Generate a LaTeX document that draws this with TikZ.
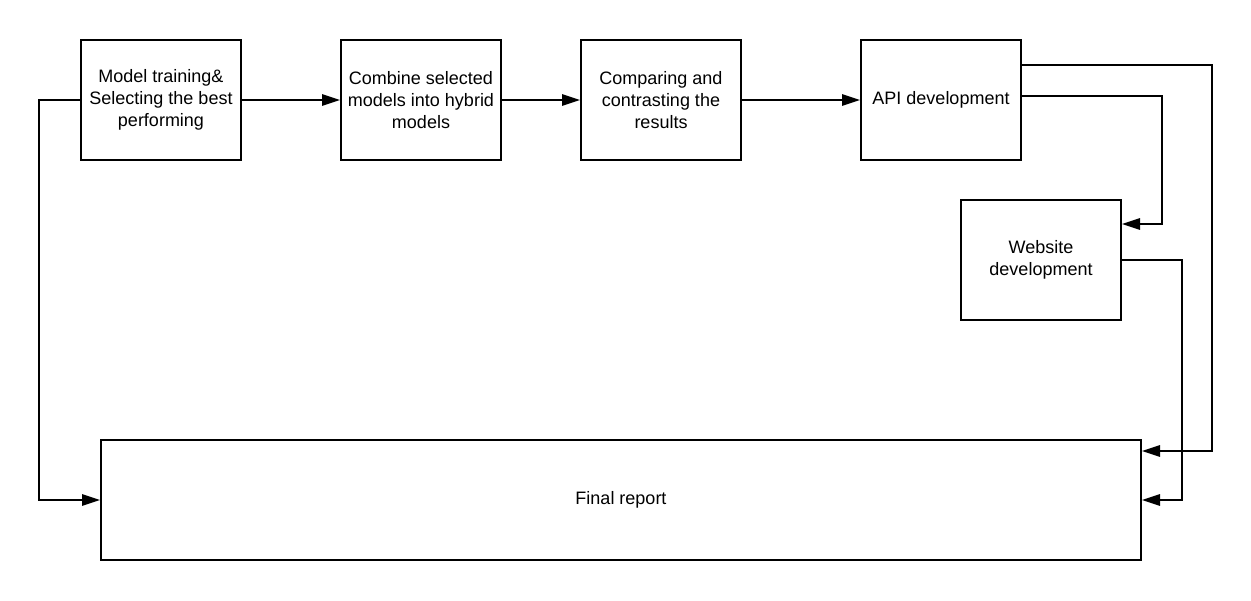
\documentclass[tikz,border=0pt]{standalone}
\usepackage{fontspec}
\setmainfont{Liberation Sans}
\usetikzlibrary{positioning, calc, arrows.meta}

\begin{document}
\begin{tikzpicture}[x=0.75pt, y=-0.75pt, line width=1.5pt,
    box/.style={draw, minimum width=120pt, minimum height=90pt, align=center,
      font=\fontsize{13.5}{16.5}\selectfont},
    >={Triangle[length=13.5pt,width=8.5pt]}]
      \useasboundingbox (0,0) rectangle (1251,600);

      \node[box] (train) at (161,100) {Model training\&\\Selecting the best\\performing};
      \node[box] (hybrid) at (421,100) {Combine selected\\models into hybrid\\models};
      \node[box] (compare) at (661,100) {Comparing and\\contrasting the\\results};
      \node[box] (api) at (941,100) {API development};
      \node[box] (web) at (1041,260) {Website\\development};
      \node[box, minimum width=780pt] (report) at (621,500) {Final report};

      \draw[->] (train) -- (hybrid);
      \draw[->] (hybrid) -- (compare);
      \draw[->] (compare) -- (api);

      \draw[->] (train.west) -- ++(-41,0) |- (report.west);
      \draw[->] (api.east |- 0,65) -- ++(190,0) |- (report.east |- 0,451);
      \draw[->] (api.east |- 0,96) -- ++(140,0) |- (web.east |- 0,224);
      \draw[->] (web.east) -- ++(60,0) |- (report.east);
\end{tikzpicture}
\end{document}
